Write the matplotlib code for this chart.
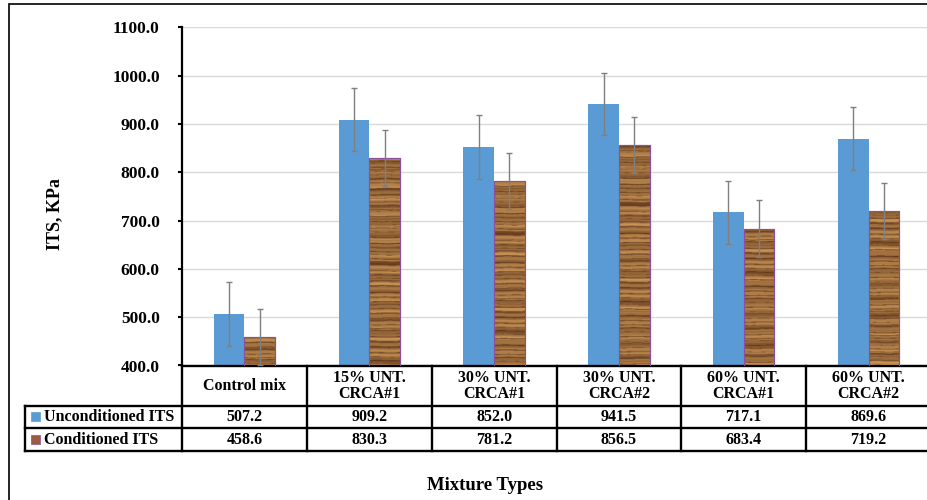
import numpy as np
import matplotlib
matplotlib.use("Agg")
import matplotlib.pyplot as plt
from matplotlib.patches import Rectangle

# ---------------- data ----------------
categories = ["Control mix", "15% UNT.\nCRCA#1", "30% UNT.\nCRCA#1",
              "30% UNT.\nCRCA#2", "60% UNT.\nCRCA#1", "60% UNT.\nCRCA#2"]
series_names = ["Unconditioned ITS", "Conditioned ITS"]
unconditioned = [507.2, 909.2, 852.0, 941.5, 717.1, 869.6]
conditioned = [458.6, 830.3, 781.2, 856.5, 683.4, 719.2]
unc_err = [66, 66, 66, 65, 66, 65]
cond_err = [58, 58, 58, 58, 59, 58]
yticks = [400, 500, 600, 700, 800, 900, 1000, 1100]
ylabel = "ITS, KPa"
xlabel = "Mixture Types"

# ---------------- style ----------------
W, H = 928, 500
BLUE = "#5B9BD5"
BROWN_KEY = "#9C5B3F"
EDGE = "#8A4F9E"
plt.rcParams["font.family"] = ["Liberation Serif", "DejaVu Serif"]
plt.rcParams["font.weight"] = "bold"

fig = plt.figure(figsize=(W / 100, H / 100), dpi=100)
fig.patch.set_facecolor("white")


def fx(px):
    return px / W


def fy(py):
    return 1 - py / H


ax_left, ax_right, ax_top, ax_bot = 182, 931, 27.5, 365.5
ax_w, ax_h = ax_right - ax_left, ax_bot - ax_top
ax = fig.add_axes([fx(ax_left), fy(ax_bot), ax_w / W, ax_h / H])


def xa(px):
    return (px - ax_left) / ax_w


def ya(py):
    return (ax_bot - py) / ax_h


x = np.arange(len(categories))
bw = 0.245
bars_u = ax.bar(x - bw / 2, unconditioned, bw, color=BLUE, zorder=2)
bars_c = ax.bar(x + bw / 2, conditioned, bw, color="#A8743F", edgecolor=EDGE,
                linewidth=0.8, zorder=2)

# wood texture (deterministic procedural pattern) clipped to each conditioned bar
ny, nx = 700, 16
t = np.arange(ny)[:, None].astype(float)
xx = np.arange(nx)[None, :].astype(float)
tw = t + 0.5 * np.sin(2 * np.pi * xx / nx + t / 40.0)
base = (0.66 + 0.14 * np.sin(2 * np.pi * tw / 29.3 + 0.5)
        + 0.09 * np.sin(2 * np.pi * tw / 11.7 + 1.3)
        + 0.06 * np.sin(2 * np.pi * tw / 4.9 + 2.1))
lines = np.sin(2 * np.pi * tw / 9.3 + 2.0 * np.sin(2 * np.pi * tw / 53.0))
base = np.where(lines > 0.86, base * 0.45, base)
lines2 = np.sin(2 * np.pi * tw / 17.1 + 1.5 * np.sin(2 * np.pi * tw / 31.0) + 0.9)
base = np.where(lines2 > 0.93, base * 0.55, base)
val = np.clip(base, 0, 1)
dark = np.array([0.28, 0.13, 0.05])
light = np.array([0.84, 0.63, 0.37])
tex = dark[None, None, :] + (light - dark)[None, None, :] * val[..., None]
for i, b in enumerate(bars_c):
    shifted = np.roll(tex, 61 * i + 13, axis=0)
    x0 = b.get_x()
    im = ax.imshow(shifted, extent=(x0, x0 + b.get_width(), yticks[0], yticks[-1]),
                   origin="lower", aspect="auto", interpolation="bilinear", zorder=2.5)
    im.set_clip_path(b)
    ax.add_patch(Rectangle((b.get_x(), b.get_y()), b.get_width(), b.get_height(),
                           fill=False, edgecolor=EDGE, linewidth=0.8, zorder=2.6))

ax.errorbar(x - bw / 2, unconditioned, yerr=unc_err, fmt="none", ecolor="#7F7F7F",
            elinewidth=1, capsize=2.5, capthick=1, zorder=4)
ax.errorbar(x + bw / 2, conditioned, yerr=cond_err, fmt="none", ecolor="#7F7F7F",
            elinewidth=1, capsize=2.5, capthick=1, zorder=4)

ax.set_xlim(-0.5, len(categories) - 0.5)
ax.set_ylim(yticks[0], yticks[-1])
ax.set_yticks(yticks)
ax.set_yticklabels([f"{v:.1f}" for v in yticks], fontsize=12.5, fontweight="bold")
ax.set_xticks([])
ax.yaxis.grid(True, color="#D9D9D9", linewidth=1)
ax.set_axisbelow(True)
for s in ["top", "right", "bottom"]:
    ax.spines[s].set_visible(False)
ax.spines["left"].set_linewidth(1.6)
ax.spines["left"].set_color("black")
ax.tick_params(axis="y", direction="out", length=3, width=1.5, pad=13, colors="black")

# ---------------- data table (drawn under the axes) ----------------
tab_top, head_bot, row1_bot, tab_bot = 365.5, 405.5, 428.0, 450.5
tab_left = 25
LW = 1.7
ta = ax.transAxes
tx = ax.get_xaxis_transform()
line_kw = dict(color="black", linewidth=LW, clip_on=False, solid_capstyle="projecting")

ax.plot([0, 1.05], [ya(tab_top)] * 2, transform=ta, **line_kw)
for py in (head_bot, row1_bot, tab_bot):
    ax.plot([xa(tab_left), 1.05], [ya(py)] * 2, transform=ta, **line_kw)
ax.plot([xa(tab_left)] * 2, [ya(head_bot), ya(tab_bot)], transform=ta, **line_kw)
for i in range(len(categories) + 1):
    ax.plot([i - 0.5] * 2, [ya(tab_top), ya(tab_bot)], transform=tx, **line_kw)

TFS = 11.5
for i, cat in enumerate(categories):
    ax.text(i, ya((tab_top + head_bot) / 2 + 0.5), cat, transform=tx, ha="center",
            va="center", fontsize=TFS, fontweight="bold", linespacing=1.0, clip_on=False)
row_centres = [(head_bot + row1_bot) / 2, (row1_bot + tab_bot) / 2]
for r, (name, vals, col) in enumerate(zip(series_names, [unconditioned, conditioned],
                                          [BLUE, BROWN_KEY])):
    cy = row_centres[r]
    ax.text(xa(44), ya(cy + 0.5), name, transform=ta, ha="left", va="center",
            fontsize=TFS, fontweight="bold", clip_on=False)
    for i, v in enumerate(vals):
        ax.text(i, ya(cy + 0.5), f"{v:.1f}", transform=tx, ha="center", va="center",
                fontsize=TFS, fontweight="bold", clip_on=False)
    ax.add_patch(Rectangle((xa(31), ya(cy + 4.5)), 9 / ax_w, 9 / ax_h, transform=ta,
                           facecolor=col, edgecolor=col if r == 0 else EDGE,
                           linewidth=0.5, clip_on=False))

# axis titles
fig.text(fx(55), fy(214), ylabel, rotation=90, ha="center", va="center",
         fontsize=13, fontweight="bold")
fig.text(fx(485), fy(485), xlabel, ha="center", va="center",
         fontsize=13.5, fontweight="bold")

# outer border (cropped at right and bottom)
fig.patches.append(Rectangle((fx(9), -0.1), 1.2, fy(4) + 0.1, transform=fig.transFigure,
                             fill=False, edgecolor="black", linewidth=1.2))

fig.savefig("out.png", dpi=100)
